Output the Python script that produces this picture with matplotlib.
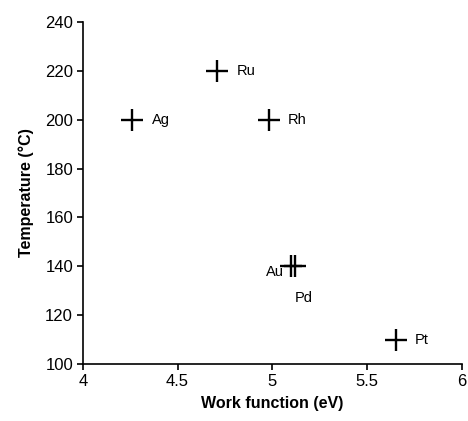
import matplotlib.pyplot as plt

plt.rcParams['font.family'] = ['Liberation Sans', 'DejaVu Sans']

metais = ["Ag", "Ru", "Rh", "Au", "Pd", "Pt"]
funcao_trabalho = [4.26, 4.71, 4.98, 5.10, 5.12, 5.65]
temperatura = [200, 220, 200, 140, 140, 110]

# deslocamento dos rotulos em pontos (dx, dy)
desloc = {"Ag": (14, 0), "Ru": (14, 0), "Rh": (14, 0),
          "Au": (-5, -4), "Pd": (0, -23), "Pt": (14, 0)}
alinh = {"Au": "right"}

fig = plt.figure(figsize=(4.68, 4.21), dpi=100)
ax = fig.add_axes([0.177, 0.135, 0.81, 0.813])

ax.scatter(funcao_trabalho, temperatura, marker='+', s=270, color='black', linewidths=1.7)

for m, x, y in zip(metais, funcao_trabalho, temperatura):
    ax.annotate(m, (x, y), xytext=desloc[m], textcoords='offset points',
                ha=alinh.get(m, 'left'), va='center', fontsize=10.5)

ax.set_xlim(4, 6)
ax.set_ylim(100, 240)
ax.set_xticks([4, 4.5, 5, 5.5, 6])
ax.set_xticklabels(["4", "4.5", "5", "5.5", "6"])
ax.set_yticks(range(100, 241, 20))
ax.tick_params(labelsize=12, direction='out', length=4, width=1.2, pad=3)
for s in ['left', 'bottom']:
    ax.spines[s].set_linewidth(1.2)
ax.spines['top'].set_visible(False)
ax.spines['right'].set_visible(False)
ax.set_xlabel("Work function (eV)", fontsize=11.5, fontweight='bold', labelpad=5)
ax.set_ylabel("Temperature (°C)", fontsize=11.5, fontweight='bold', labelpad=8)

plt.savefig("out.png", dpi=100)
